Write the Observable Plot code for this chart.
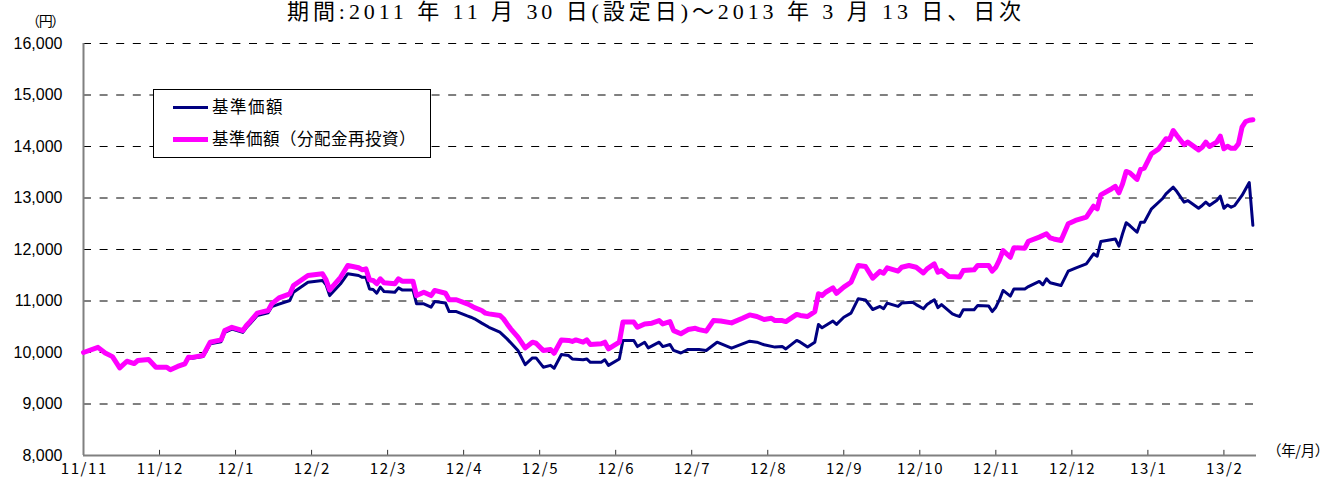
<!DOCTYPE html>
<html>
<head>
<meta charset="utf-8">
<script src="https://cdn.jsdelivr.net/npm/d3@7"></script>
<script src="https://cdn.jsdelivr.net/npm/@observablehq/plot@0.6"></script>
<style>
  body { margin: 0; background: #fff; }
  #wrap { position: relative; width: 1333px; height: 491px; overflow: hidden; background: #fff; }
  #chart { position: absolute; left: 0; top: 0; }
  #title { position: absolute; left: 287px; top: 1px; line-height: 22px;
           font-family: "Liberation Serif", "Noto Sans CJK JP", serif; font-size: 22px; color: #000; white-space: nowrap; }
  #yunit { position: absolute; left: 26px; top: 10px; font-family: "Noto Sans CJK JP", sans-serif; font-size: 14px; color: #000; white-space: nowrap; }
  #xunit { position: absolute; left: 1267px; top: 439px; font-family: "Noto Sans CJK JP", sans-serif; font-size: 14.5px; color: #000; white-space: nowrap; }
  #legend { position: absolute; left: 153px; top: 89px; width: 276px; height: 67px; border: 1px solid #000; background: #fff; }
  .sw { position: absolute; left: 19px; width: 35px; }
  .lt { position: absolute; left: 58px; font-family: "Noto Sans CJK JP", sans-serif; font-size: 16.5px; color: #000; line-height: 1; white-space: nowrap; }
</style>
</head>
<body>
<div id="wrap">
  <div id="chart"></div>
  <div id="title"><span id="titleSpan"></span></div>
  <div id="yunit"><span id="yunitSpan"></span></div>
  <div id="xunit"><span id="xunitSpan"></span></div>
  <div id="legend">
    <div class="sw" style="top:16px;height:3px;background:#000080"></div>
    <div class="lt" style="top:8px"><span id="lg1"></span></div>
    <div class="sw" style="top:47px;height:5px;background:#ff00ff"></div>
    <div class="lt" style="top:40px"><span id="lg2"></span></div>
  </div>
</div>
<script>
// ---- texts ----
const titleText = "期間:2011 年 11 月 30 日(設定日)～2013 年 3 月 13 日、日次";
const yUnitText = "（円）";
const xUnitText = "（年/月）";
const seriesNames = ["基準価額", "基準価額（分配金再投資）"];
const seriesColors = ["#000080", "#ff00ff"];

// ---- axis ticks (x = trading-day index from 2011/11/30) ----
const tickDays = [0, 21, 42, 63, 84, 105, 126, 147, 168, 189, 210, 231, 252, 273, 294, 315];
const tickLabels = ["11/11", "11/12", "12/1", "12/2", "12/3", "12/4", "12/5", "12/6", "12/7", "12/8", "12/9", "12/10", "12/11", "12/12", "13/1", "13/2"];
const yTicks = [8000, 9000, 10000, 11000, 12000, 13000, 14000, 15000, 16000];

// ---- 基準価額（分配金再投資） ----
const reinvestDay = [0,4,6,8,10,12,14,15,18,20,23,24,26,28,29,30,33,34,35,38,39,41,44,45,46,48,51,52,54,57,58,62,66,67,68,71,73,76,77,78,79,80,81,82,83,86,87,88,91,92,94,96,97,100,101,103,106,107,108,110,111,112,115,116,117,118,120,122,124,125,127,129,130,132,134,135,136,138,139,140,143,144,145,148,149,152,153,155,157,159,160,162,163,165,167,169,170,172,174,176,179,182,184,186,188,190,191,193,194,197,198,200,202,203,204,205,207,208,210,212,214,216,218,220,221,222,225,226,228,230,232,233,235,236,237,239,242,243,246,247,250,251,252,253,254,256,257,260,261,264,266,267,268,270,272,274,277,279,280,281,284,285,286,287,288,289,291,292,293,295,297,299,300,301,302,304,305,308,309,310,311,313,314,315,316,317,318,319,320,321,322,323];
const reinvestValue = [10000,10100,9990,9920,9700,9830,9785,9845,9865,9715,9715,9665,9730,9780,9910,9905,9940,10070,10200,10245,10425,10490,10425,10525,10600,10765,10815,10945,11060,11140,11300,11495,11530,11410,11215,11460,11690,11645,11605,11625,11410,11400,11335,11430,11355,11335,11430,11385,11385,11105,11170,11105,11205,11150,11025,11025,10945,10910,10870,10815,10765,10750,10720,10655,10555,10460,10300,10090,10200,10180,10040,10060,9985,10245,10235,10215,10245,10200,10245,10155,10170,10200,10070,10200,10590,10590,10490,10555,10570,10620,10555,10600,10425,10365,10445,10470,10445,10415,10620,10610,10575,10665,10730,10700,10640,10665,10620,10620,10600,10740,10720,10700,10795,11140,11105,11170,11255,11150,11270,11365,11690,11670,11445,11575,11540,11645,11580,11655,11690,11655,11545,11625,11720,11560,11590,11475,11465,11590,11605,11690,11690,11580,11655,11800,11980,11850,12035,12025,12160,12240,12305,12225,12205,12175,12500,12565,12630,12840,12790,13060,13180,13225,13100,13275,13515,13490,13360,13555,13580,13860,13955,14150,14135,14310,14215,14035,14085,13935,13985,14085,14000,14085,14200,13955,14005,13965,13965,14050,14375,14485,14510,14520];

// ---- 基準価額 ----
const navDay = [0,4,6,8,10,12,14,15,18,20,23,24,26,28,29,30,33,34,35,38,39,41,44,45,46,48,51,52,54,57,58,62,66,67,68,71,73,76,77,78,79,80,81,82,83,86,87,88,91,92,94,96,97,100,101,103,106,107,108,110,112,115,117,120,122,124,125,127,129,130,132,134,135,138,139,140,143,144,145,148,149,152,153,155,156,159,160,162,163,165,167,170,172,175,179,184,186,188,191,193,194,197,198,200,202,203,204,207,208,210,212,214,216,218,220,221,222,225,226,229,230,232,233,235,236,237,240,241,242,243,246,247,250,251,252,253,254,256,257,260,261,264,265,266,267,270,272,274,277,279,280,281,285,286,287,288,289,291,292,293,295,298,299,301,302,304,305,308,309,310,311,313,314,315,316,317,318,320,322,323];
const navValue = [10000,10100,9990,9920,9700,9830,9785,9845,9865,9715,9715,9665,9730,9780,9900,9890,9920,10040,10170,10210,10390,10455,10390,10485,10560,10720,10770,10890,10940,11010,11170,11365,11400,11315,11105,11335,11530,11495,11460,11460,11235,11225,11150,11270,11185,11170,11255,11215,11215,10945,10945,10880,10990,10960,10795,10795,10710,10685,10655,10570,10490,10395,10265,10040,9765,9895,9895,9715,9750,9695,9960,9940,9875,9860,9875,9810,9810,9860,9750,9875,10235,10235,10115,10200,10090,10200,10115,10155,10040,9990,10060,10060,10040,10200,10085,10220,10200,10150,10105,10115,10070,10235,10200,10105,10200,10545,10480,10610,10545,10685,10765,11045,11020,10835,10895,10850,10960,10895,10960,10975,10930,10850,10930,11025,10870,10930,10750,10720,10700,10830,10830,10915,10905,10795,10880,11025,11205,11095,11235,11235,11280,11380,11315,11430,11355,11300,11580,11640,11720,11915,11870,12155,12205,12065,12305,12520,12465,12335,12530,12530,12790,12985,13080,13210,13125,12920,12950,12800,12855,12920,12855,12950,13035,12800,12865,12820,12855,13050,13300,12470];

// ---- build rows ----
const navRows = navDay.map((d, i) => ({day: d, value: navValue[i]}));
const reinvestRows = reinvestDay.map((d, i) => ({day: d, value: reinvestValue[i]}));
const xTickRows = tickDays.map((d, i) => ({day: d, label: tickLabels[i]}));

function fitSpacing(el, text, target) {
  el.textContent = text;
  const w = el.getBoundingClientRect().width;
  const n = Array.from(text).length;
  el.style.letterSpacing = ((target - w) / n) + "px";
}
fitSpacing(document.getElementById("titleSpan"), titleText, 738);
fitSpacing(document.getElementById("yunitSpan"), yUnitText, 38);
fitSpacing(document.getElementById("xunitSpan"), xUnitText, 62);
fitSpacing(document.getElementById("lg1"), seriesNames[0], 72);
fitSpacing(document.getElementById("lg2"), seriesNames[1], 204);

const yFmt = d3.format(",");

const chart = Plot.plot({
  width: 1333,
  height: 491,
  marginLeft: 83,
  marginRight: 77,
  marginTop: 43,
  marginBottom: 36,
  style: {background: "transparent", overflow: "visible"},
  x: {domain: [0, 324], axis: null},
  y: {domain: [8000, 16000], axis: null},
  marks: [
    Plot.ruleY(yTicks.filter(v => v > yTicks[0]), {stroke: "#000", strokeWidth: 1, strokeDasharray: "8,8.6"}),
    Plot.ruleX(tickDays.slice(1), {x: d => d, y1: yTicks[0], y2: yTicks[0] + 100, stroke: "#333", strokeWidth: 1}),
    Plot.ruleY([yTicks[0]], {stroke: "#808080", strokeWidth: 2}),
    Plot.ruleX([0], {stroke: "#808080", strokeWidth: 2}),
    // y tick labels
    Plot.text(yTicks, {y: d => d, frameAnchor: "left", dx: -21, textAnchor: "end", text: d => yFmt(d), fill: "#000"}),
    // x tick labels
    Plot.text(xTickRows, {x: "day", frameAnchor: "bottom", dy: 18, text: "label", fill: "#000"}),
    Plot.line(navRows, {x: "day", y: "value", stroke: seriesColors[0], strokeWidth: 3, strokeLinejoin: "round"}),
    Plot.line(reinvestRows, {x: "day", y: "value", stroke: seriesColors[1], strokeWidth: 5, strokeLinejoin: "round"})
  ]
});
document.getElementById("chart").appendChild(chart);

// label fonts (inline styles so nothing overrides them)
Array.from(chart.querySelectorAll("text")).forEach(t => {
  const s = t.textContent;
  if (/^\d{1,2},\d{3}$/.test(s)) {
    t.style.fontFamily = "'Liberation Sans', Arial, sans-serif";
    t.style.fontSize = "16px";
  } else if (/^\d+\/\d+$/.test(s)) {
    t.style.fontFamily = "'Noto Sans CJK JP', sans-serif";
    t.style.fontSize = "15px";
    t.style.letterSpacing = "1.6px";
    t.setAttribute("dx", "0.8");
  }
});
</script>
</body>
</html>
